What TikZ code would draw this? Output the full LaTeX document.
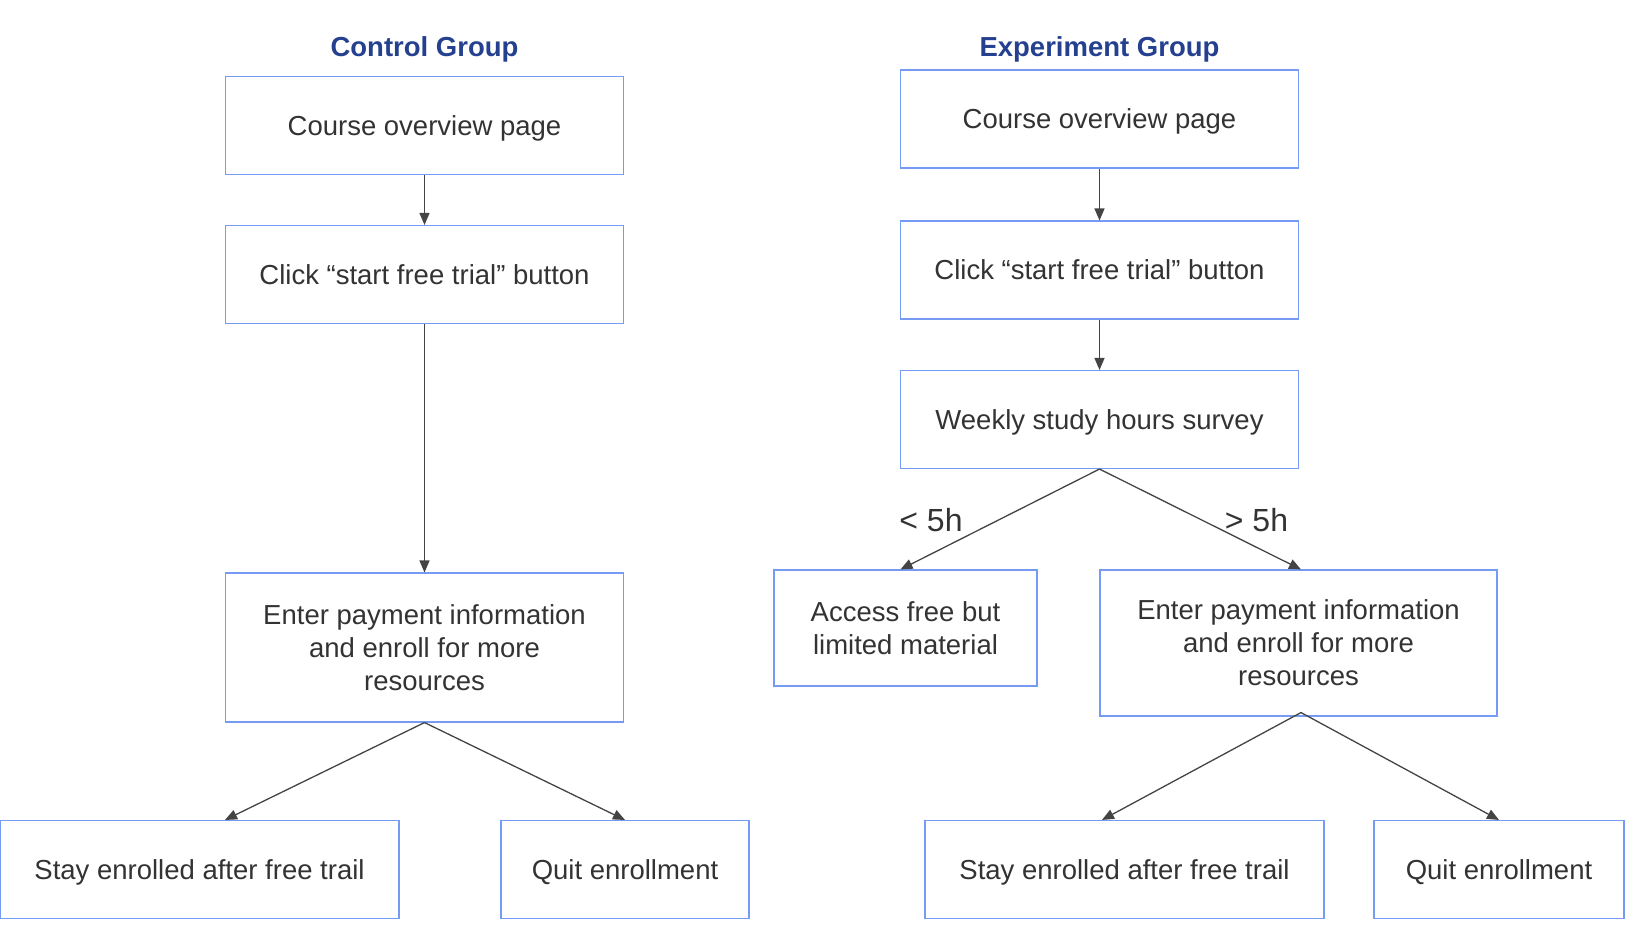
\documentclass[tikz,border=0pt]{standalone}
\usepackage{fontspec}
\setmainfont{Liberation Sans}
\usetikzlibrary{arrows.meta}
\definecolor{boxblue}{RGB}{118,155,245}
\definecolor{titleblue}{RGB}{36,64,143}
\definecolor{txt}{RGB}{51,51,51}
\definecolor{arrowgray}{RGB}{68,68,68}
\begin{document}
\begin{tikzpicture}[x=1pt,y=-1pt,
  stepbox/.style={draw=boxblue,line width=1.1pt,fill=white,text=txt,
    align=center,inner sep=0pt,text depth=0pt,minimum width=398pt,minimum height=98pt,
    font=\fontsize{27.5}{33}\selectfont},
  grouptitle/.style={text=titleblue,anchor=base,inner sep=0pt,
    font=\fontsize{27.5}{33}\selectfont\bfseries},
  branchlabel/.style={text=txt,inner sep=0pt,font=\fontsize{32}{38}\selectfont},
  flow/.style={draw=arrowgray,line width=1.3pt,-{Triangle[length=12pt,width=10pt]}}]
\useasboundingbox (0,0) rectangle (1650,950);

% Control group
\node[grouptitle] (ctitle) at (424.5,57) {Control Group};
\node[stepbox] (c1) at (424.5,125.5) {Course overview page};
\node[stepbox] (c2) at (424.5,274.5) {Click “start free trial” button};
\node[stepbox,minimum height=149pt] (c3) at (424.5,647.5)
  {Enter payment information\\and enroll for more\\resources};
\node[stepbox,minimum width=399pt] (cstay) at (199.5,869.5) {Stay enrolled after free trail};
\node[stepbox,minimum width=248pt] (cquit) at (625,869.5) {Quit enrollment};

\draw[flow] (c1.south) -- (c2.north);
\draw[flow] (c2.south) -- (c3.north);
\draw[flow] (c3.south) -- ([xshift=25.5pt]cstay.north);
\draw[flow] (c3.south) -- (cquit.north);

% Experiment group
\node[grouptitle] (etitle) at (1099.5,57) {Experiment Group};
\node[stepbox] (e1) at (1099.5,119) {Course overview page};
\node[stepbox] (e2) at (1099.5,270) {Click “start free trial” button};
\node[stepbox] (e3) at (1099.5,419.5) {Weekly study hours survey};
\node[stepbox,minimum width=263pt,minimum height=116pt] (eacc) at (905.5,628)
  {Access free but\\limited material};
\node[stepbox,minimum width=397pt,minimum height=146pt] (epay) at (1298.5,643)
  {Enter payment information\\and enroll for more\\resources};
\node[stepbox,minimum width=399pt] (estay) at (1124.5,869.5) {Stay enrolled after free trail};
\node[stepbox,minimum width=250pt] (equit) at (1499,869.5) {Quit enrollment};

\draw[flow] (e1.south) -- (e2.north);
\draw[flow] (e2.south) -- (e3.north);
\draw[flow] (e3.south) -- ([xshift=-5pt]eacc.north);
\draw[flow] (e3.south) -- ([xshift=2.5pt]epay.north);
\draw[flow] ([xshift=2.5pt,yshift=4pt]epay.south) -- ([xshift=-22.5pt]estay.north);
\draw[flow] ([xshift=2.5pt,yshift=4pt]epay.south) -- (equit.north);

\node[branchlabel] (lt) at (931,520) {< 5h};
\node[branchlabel] (gt) at (1256.5,520) {> 5h};
\end{tikzpicture}
\end{document}
